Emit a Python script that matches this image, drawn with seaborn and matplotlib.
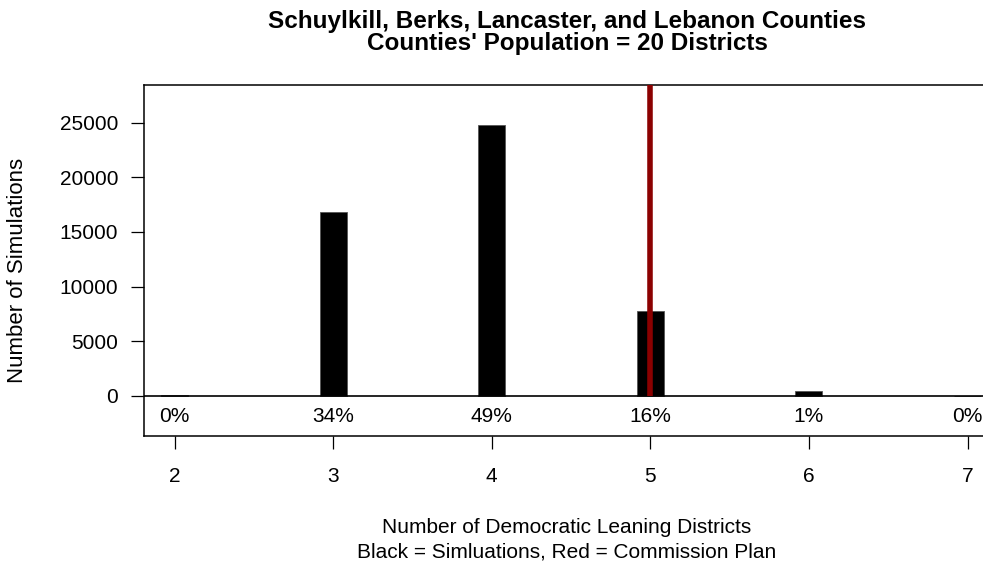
import matplotlib
matplotlib.use("Agg")
import matplotlib.pyplot as plt
import seaborn as sns
import pandas as pd

# values
DISTRICTS = [2, 3, 4, 5, 6, 7]
COUNTS = [50, 16850, 24750, 7800, 480, 0]
PCT_LABELS = ["0%", "34%", "49%", "16%", "1%", "0%"]
COMMISSION_PLAN = 5
Y_TICKS = [0, 5000, 10000, 15000, 20000, 25000]

TITLE_LINES = ["Schuylkill, Berks, Lancaster, and Lebanon Counties",
               "Counties' Population = 20 Districts"]
XLABEL_LINES = ["Number of Democratic Leaning Districts",
                "Black = Simluations, Red = Commission Plan"]
YLABEL = "Number of Simulations"

W, H = 983, 563


def main():
    sns.set_style("white")
    plt.rcParams["font.family"] = ["Liberation Sans", "DejaVu Sans"]
    plt.rcParams["text.color"] = "black"

    df = pd.DataFrame({"districts": DISTRICTS, "count": COUNTS})

    fig = plt.figure(figsize=(W / 100, H / 100), dpi=100)
    ax = fig.add_axes([0.1465, 0.2256, 0.87, 0.6234])

    sns.barplot(data=df, x="districts", y="count", native_scale=True,
                width=0.17, color="black", edgecolor="#555555", linewidth=0.6,
                saturation=1, ax=ax)

    ymin, ymax = -3658, 28443
    ax.axhline(0, color="black", lw=1.2, zorder=3)
    ax.plot([COMMISSION_PLAN, COMMISSION_PLAN], [0, ymax], color="#8B0000",
            lw=4, zorder=4, solid_capstyle="butt")

    for x, lab in zip(DISTRICTS, PCT_LABELS):
        ax.text(x, -1830, lab, ha="center", va="center", fontsize=15, color="black")

    ax.set_xlim(1.807, 7.2)
    ax.set_ylim(ymin, ymax)
    ax.set_xticks(DISTRICTS)
    ax.set_xticklabels([str(d) for d in DISTRICTS])
    ax.set_yticks(Y_TICKS)
    ax.set_yticklabels([str(t) for t in Y_TICKS])

    ax.tick_params(axis="x", direction="out", length=9.5, width=0.9,
                   pad=13, labelsize=15, bottom=True, colors="black")
    ax.tick_params(axis="y", direction="out", length=9.5, width=0.9,
                   pad=9, labelsize=15, left=True, colors="black")
    for s in ax.spines.values():
        s.set_color("black")
        s.set_linewidth(1.1)

    ax.set_xlabel("")
    ax.set_ylabel("")

    cx = 567 / W
    fig.text(18 / W, 1 - 270 / H, YLABEL, rotation=90, ha="center", va="center",
             fontsize=16)
    for line, base in zip(XLABEL_LINES, [533, 557]):
        fig.text(cx, 1 - base / H, line, ha="center", va="baseline", fontsize=15)
    for line, base in zip(TITLE_LINES, [28, 50]):
        fig.text(cx, 1 - base / H, line, ha="center", va="baseline", fontsize=17.5,
                 fontweight="bold")

    fig.savefig("out.png", dpi=100)
    plt.close(fig)


if __name__ == "__main__":
    main()
